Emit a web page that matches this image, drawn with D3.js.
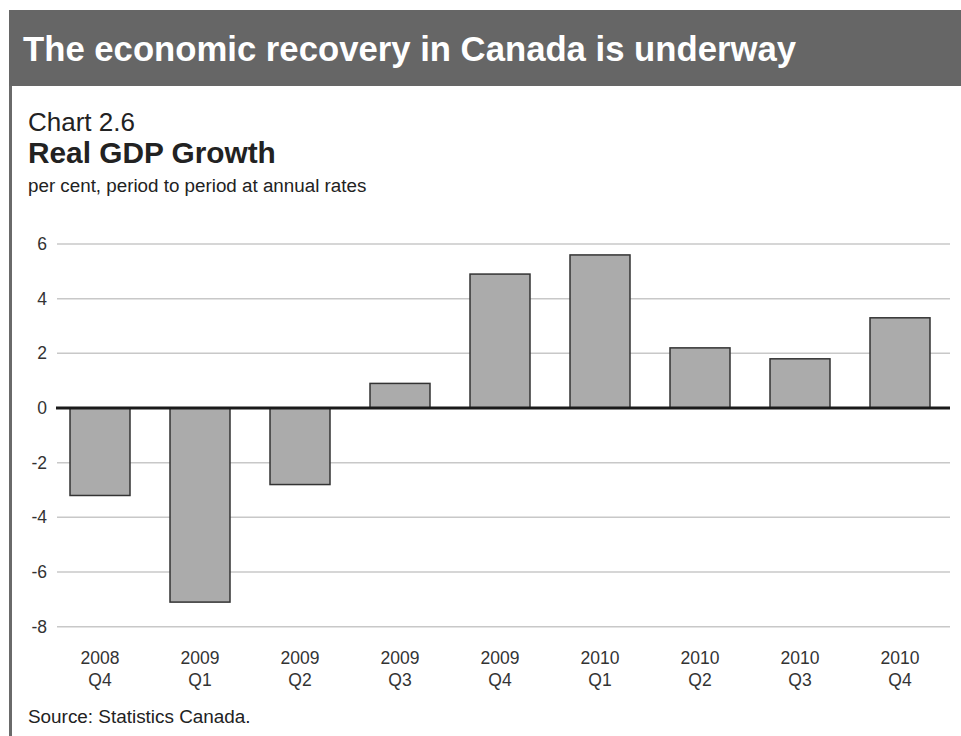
<!DOCTYPE html>
<html>
<head>
<meta charset="utf-8">
<script src="https://cdn.jsdelivr.net/npm/d3@7"></script>
<style>
  html, body { margin: 0; padding: 0; background: #fff; }
  svg { display: block; }
  text { font-family: "Liberation Sans", Arial, Helvetica, sans-serif; }
</style>
</head>
<body>
<svg id="chart" width="961" height="736"></svg>
<script>
const categories = ["2008 Q4", "2009 Q1", "2009 Q2", "2009 Q3", "2009 Q4", "2010 Q1", "2010 Q2", "2010 Q3", "2010 Q4"];
const gdpGrowth = [-3.2, -7.1, -2.8, 0.9, 4.9, 5.6, 2.2, 1.8, 3.3];
const yTicks = [-8, -6, -4, -2, 0, 2, 4, 6];

const pageTitle = "The economic recovery in Canada is underway";
const chartNumber = "Chart 2.6";
const chartTitle = "Real GDP Growth";
const chartUnits = "per cent, period to period at annual rates";
const sourceNote = "Source: Statistics Canada.";

const svg = d3.select("#chart");

// Title banner
svg.append("rect").attr("x", 9).attr("y", 10).attr("width", 952).attr("height", 76).attr("fill", "#666666");
svg.append("rect").attr("x", 9).attr("y", 86).attr("width", 3).attr("height", 650).attr("fill", "#6a6a6a");
svg.append("text").attr("x", 23).attr("y", 61)
  .attr("fill", "#ffffff").attr("font-weight", "bold").attr("font-size", 34.7)
  .text(pageTitle);

// Headers
svg.append("text").attr("x", 28).attr("y", 131).attr("fill", "#222").attr("font-size", 26).text(chartNumber);
svg.append("text").attr("x", 28).attr("y", 163).attr("fill", "#222").attr("font-weight", "bold").attr("font-size", 29.8).text(chartTitle);
svg.append("text").attr("x", 28).attr("y", 192).attr("fill", "#222").attr("font-size", 18.8).text(chartUnits);

// Scales
const x = d3.scaleBand().domain(categories).range([50, 950]).paddingInner(0.4).paddingOuter(0.2);
const y = d3.scaleLinear().domain([-8, 6]).range([626.7, 244]);

// Gridlines
const gridG = svg.append("g");
gridG.selectAll("line").data(yTicks.filter(d => d !== 0)).join("line")
  .attr("x1", 57).attr("x2", 950)
  .attr("y1", d => y(d)).attr("y2", d => y(d))
  .attr("stroke", "#c8c8c8").attr("stroke-width", 1.5);

// Y axis labels via d3 axis (plain hyphen minus like the reference)
const yAxis = d3.axisLeft(y).tickValues(yTicks).tickSize(0).tickPadding(0).tickFormat(d => String(d));
const yG = svg.append("g").attr("transform", "translate(47,0)").call(yAxis);
yG.select(".domain").remove();
yG.selectAll("text").attr("font-size", 17.5).attr("fill", "#333")
  .attr("font-family", "Liberation Sans, Arial, sans-serif");

// Bars
svg.append("g").selectAll("rect").data(gdpGrowth).join("rect")
  .attr("x", (d, i) => x(categories[i]))
  .attr("width", x.bandwidth())
  .attr("y", d => y(Math.max(0, d)))
  .attr("height", d => Math.abs(y(d) - y(0)))
  .attr("fill", "#ababab")
  .attr("stroke", "#333")
  .attr("stroke-width", 1.5);

// Zero line
svg.append("line").attr("x1", 56).attr("x2", 950).attr("y1", y(0)).attr("y2", y(0))
  .attr("stroke", "#1a1a1a").attr("stroke-width", 3);

// X axis labels
const xAxis = d3.axisBottom(x).tickSize(0).tickPadding(0).tickFormat(() => "");
const xG = svg.append("g").attr("transform", "translate(0,640)").call(xAxis);
xG.select(".domain").remove();
xG.selectAll(".tick text").remove();
xG.selectAll(".tick").each(function(d) {
  const parts = d.split(" ");
  const t = d3.select(this).append("text")
    .attr("text-anchor", "middle").attr("fill", "#333").attr("font-size", 17.5)
    .attr("font-family", "Liberation Sans, Arial, sans-serif");
  t.append("tspan").attr("x", 0).attr("y", 24).text(parts[0]);
  t.append("tspan").attr("x", 0).attr("y", 46).text(parts[1]);
});

// Source
svg.append("text").attr("x", 28).attr("y", 723).attr("fill", "#222").attr("font-size", 18.9).text(sourceNote);
</script>
</body>
</html>
